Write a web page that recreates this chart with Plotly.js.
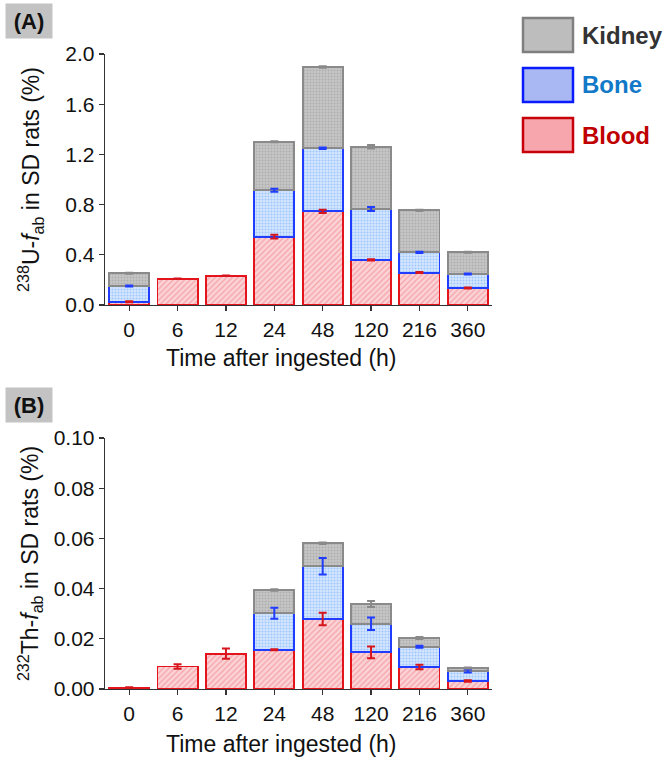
<!DOCTYPE html>
<html>
<head>
<meta charset="utf-8">
<script src="https://cdn.plot.ly/plotly-3.0.1.min.js"></script>
<style>html,body{margin:0;padding:0;background:#fff;}#chart{width:666px;height:761px;}</style>
</head>
<body>
<div id="chart"></div>
<script>
// ---- Data ----
const categories = ["0", "6", "12", "24", "48", "120", "216", "360"];

// Panel A: 238U
const uBlood     = [0.026, 0.210, 0.234, 0.545, 0.746, 0.359, 0.258, 0.135];
const uBloodErr  = [0.004, 0.002, 0.002, 0.015, 0.012, 0.005, 0.004, 0.004];
const uBone      = [0.125, null, null, 0.370, 0.503, 0.406, 0.162, 0.112];
const uBoneErr   = [0.004, null, null, 0.012, 0.006, 0.016, 0.005, 0.004];
const uKidney    = [0.102, null, null, 0.385, 0.647, 0.496, 0.334, 0.173];
const uKidneyErr = [0.003, null, null, 0.004, 0.006, 0.013, 0.004, 0.004];

// Panel B: 232Th
const thBlood     = [0.0005, 0.0090, 0.0141, 0.0156, 0.0279, 0.0146, 0.0088, 0.0032];
const thBloodErr  = [0.0002, 0.0009, 0.0020, 0.0002, 0.0025, 0.0023, 0.0009, 0.0003];
const thBone      = [null, null, null, 0.0146, 0.0210, 0.0114, 0.0080, 0.0040];
const thBoneErr   = [null, null, null, 0.0022, 0.0033, 0.0025, 0.0004, 0.0006];
const thKidney    = [null, null, null, 0.0092, 0.0092, 0.0079, 0.0035, 0.0012];
const thKidneyErr = [null, null, null, 0.0003, 0.0003, 0.0012, 0.0004, 0.0002];

const seriesNames = ["Blood", "Bone", "Kidney"];

// ---- Styles ----
const FONT = "Arial, 'Liberation Sans', sans-serif";
const styles = {
  Blood:  {bg: "#fbd3d6", fg: "#ee7076", line: "#e3141c", err: "#d6141c", shape: "/", size: 4, solid: 0.3},
  Bone:   {bg: "#d4e6ff", fg: "#6aa6f2", line: "#1f3cff", err: "#1f3cff", shape: ".", size: 3, solid: 0.35},
  Kidney: {bg: "#c6c6c6", fg: "#939393", line: "#8a8a8a", err: "#8a8a8a", shape: ".", size: 3, solid: 0.35}
};

function barTrace(name, y, xa, ya) {
  const s = styles[name];
  return {
    type: "bar", name: name, x: categories, y: y, xaxis: xa, yaxis: ya,
    showlegend: false,
    marker: {
      color: s.bg,
      line: {color: s.line, width: 1.8},
      pattern: {shape: s.shape, fgcolor: s.fg, bgcolor: s.bg, size: s.size, solidity: s.solid, fillmode: "overlay"}
    }
  };
}

// error bars drawn on top of all stacked bars, at each segment's stacked top
function errTrace(name, tops, err, xa, ya) {
  const s = styles[name];
  return {
    type: "scatter", mode: "none", name: name + " err", x: categories, y: tops,
    xaxis: xa, yaxis: ya, showlegend: false,
    error_y: {type: "data", array: err, visible: true, color: s.err, thickness: 2, width: 4}
  };
}

function stackTops(seriesList) {
  const base = categories.map(() => 0);
  return seriesList.map(ser => ser.map((v, i) => {
    if (v === null) return null;
    base[i] += v;
    return base[i];
  }));
}

const uTops = stackTops([uBlood, uBone, uKidney]);
const thTops = stackTops([thBlood, thBone, thKidney]);

const traces = [
  barTrace("Blood", uBlood, "x", "y"),
  barTrace("Bone", uBone, "x", "y"),
  barTrace("Kidney", uKidney, "x", "y"),
  barTrace("Blood", thBlood, "x2", "y2"),
  barTrace("Bone", thBone, "x2", "y2"),
  barTrace("Kidney", thKidney, "x2", "y2"),
  errTrace("Blood", uTops[0], uBloodErr, "x", "y"),
  errTrace("Bone", uTops[1], uBoneErr, "x", "y"),
  errTrace("Kidney", uTops[2], uKidneyErr, "x", "y"),
  errTrace("Blood", thTops[0], thBloodErr, "x2", "y2"),
  errTrace("Bone", thTops[1], thBoneErr, "x2", "y2"),
  errTrace("Kidney", thTops[2], thKidneyErr, "x2", "y2")
];

const xCommon = {
  type: "category", range: [-0.5, 7.5], showline: true, linecolor: "#333", linewidth: 1.3,
  ticks: "outside", ticklen: 5, tickcolor: "#333", tickwidth: 1.2,
  showgrid: false, zeroline: false,
  tickfont: {family: FONT, size: 21, color: "#111"}
};
const yCommon = {
  showline: true, linecolor: "#333", linewidth: 1.3,
  ticks: "outside", ticklen: 5, tickcolor: "#333", tickwidth: 1.2,
  showgrid: false, zeroline: false,
  tickfont: {family: FONT, size: 21, color: "#111"}
};

const legendRows = [
  {name: "Kidney", y0: 18, y1: 52, fill: "#bdbdbd", line: "#7f7f7f", text: "#333333"},
  {name: "Bone", y0: 68, y1: 102, fill: "#a9b8f2", line: "#0a1cff", text: "#1278c8"},
  {name: "Blood", y0: 118, y1: 152, fill: "#f7a6ad", line: "#c8000a", text: "#c00000"}
];

const H = 761, W = 666;
const PW = W - 105 - 174, PH = 635;
const shapes = [], annotations = [];
legendRows.forEach(r => {
  shapes.push({type: "rect", xref: "paper", yref: "paper",
    x0: (523 - 105) / PW, x1: (573 - 105) / PW,
    y0: (689 - r.y1) / PH, y1: (689 - r.y0) / PH,
    fillcolor: r.fill, line: {color: r.line, width: 2.5}});
  annotations.push({xref: "paper", yref: "paper",
    x: (580 - 105) / PW, y: (689 - (r.y0 + r.y1) / 2) / PH,
    xanchor: "left", yanchor: "middle", showarrow: false,
    text: "<b>" + r.name + "</b>", font: {family: FONT, size: 24, color: r.text}});
});
// panel labels
[["(A)", 20.5], ["(B)", 405]].forEach(p => {
  annotations.push({xref: "paper", yref: "paper",
    x: (5 - 105) / PW, y: (689 - p[1]) / PH,
    xanchor: "left", yanchor: "middle", showarrow: false,
    text: "<b>" + p[0] + "</b>", font: {family: FONT, size: 22, color: "#111"},
    bgcolor: "#c3c3c3", borderpad: 3, width: 40, height: 28});
});
// x-axis titles
[358, 744].forEach(yc => {
  annotations.push({xref: "paper", yref: "paper",
    x: (281 - 105) / PW, y: (689 - yc) / PH,
    xanchor: "center", yanchor: "middle", showarrow: false,
    text: "Time after ingested (h)", font: {family: FONT, size: 23, color: "#111"}});
});

const layout = {
  width: W, height: H,
  margin: {l: 105, r: 174, t: 54, b: 72},
  paper_bgcolor: "#fff", plot_bgcolor: "#fff",
  barmode: "stack", bargap: 0.17,
  showlegend: false,
  font: {family: FONT, color: "#111"},
  xaxis: Object.assign({}, xCommon, {anchor: "y", domain: [0, 1]}),
  yaxis: Object.assign({}, yCommon, {domain: [384 / PH, 1], range: [0, 2.0], tickvals: [0, 0.4, 0.8, 1.2, 1.6, 2.0], ticktext: ["0.0", "0.4", "0.8", "1.2", "1.6", "2.0"],
    title: {text: "<sup>238</sup>U-<i>f</i><sub>ab</sub> in SD rats (%)", font: {family: FONT, size: 23, color: "#111"}, standoff: 19}}),
  xaxis2: Object.assign({}, xCommon, {anchor: "y2", domain: [0, 1]}),
  yaxis2: Object.assign({}, yCommon, {domain: [0, 251 / PH], range: [0, 0.10], tickvals: [0, 0.02, 0.04, 0.06, 0.08, 0.10], ticktext: ["0.00", "0.02", "0.04", "0.06", "0.08", "0.10"],
    title: {text: "<sup>232</sup>Th-<i>f</i><sub>ab</sub> in SD rats (%)", font: {family: FONT, size: 23, color: "#111"}, standoff: 8}}),
  shapes: shapes,
  annotations: annotations
};

Plotly.newPlot("chart", traces, layout, {displayModeBar: false, staticPlot: true});
</script>
</body>
</html>
